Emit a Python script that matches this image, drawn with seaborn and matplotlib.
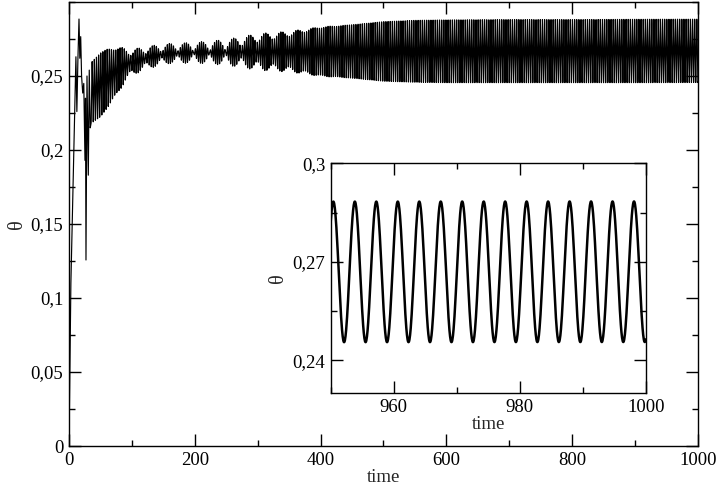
import matplotlib
matplotlib.use("Agg")
import matplotlib.pyplot as plt
import matplotlib.ticker as mticker
import numpy as np
import pandas as pd
import seaborn as sns

# early transient
TRANS_T = [0, 3, 11, 12.5, 14.2, 15.9, 17.2, 18.6, 20, 21.8, 23.5, 25.4,
           26.2, 27.0, 28.6, 30.7, 32.2, 33.8]
TRANS_THETA = [0, 0.11, 0.263, 0.226, 0.262, 0.2885, 0.262, 0.2766, 0.25,
               0.2385, 0.245, 0.193, 0.235, 0.1257, 0.25, 0.183, 0.254, 0.215]

# after the transient: oscillation read as envelope knots
ENV_T = [35, 50, 60, 73, 89, 100, 113, 130, 160, 200, 250, 300, 350, 400,
         450, 500, 550, 600, 700, 800, 900, 1000]
CENTER = [0.2385, 0.244, 0.248, 0.2524, 0.2574, 0.259, 0.261, 0.263, 0.2652,
          0.2658, 0.266, 0.2663, 0.2665, 0.2665, 0.2666, 0.2666, 0.2667,
          0.2667, 0.2668, 0.2668, 0.2669, 0.267]
AMP = [0.0205, 0.0215, 0.020, 0.016, 0.010, 0.0065, 0.0060, 0.0050, 0.0043,
       0.0040, 0.0052, 0.0095, 0.0120, 0.0163, 0.0180, 0.0201, 0.0209,
       0.0212, 0.0213, 0.0213, 0.0214, 0.0214]
BEAT_AMP = [0, 0, 0, 0.001, 0.0018, 0.0022, 0.0023, 0.0025, 0.0025, 0.003,
            0.0035, 0.0029, 0.0018, 0.0005, 0, 0, 0, 0, 0, 0, 0, 0]

PERIOD = 3.409      # from the inset: 14 cycles between 950.4 and 998.2
PEAK_T = 950.42
BEAT_PERIOD = 25.4  # spacing of the beat nodes, t = 100..350
BEAT_NODE_T = 198

t = np.arange(35.1, 1000.0001, 0.05)
phase = 2 * np.pi * (t - PEAK_T) / PERIOD
beat = 2 * np.pi * (t - BEAT_NODE_T) / BEAT_PERIOD + np.pi
theta = (np.interp(t, ENV_T, CENTER)
         + np.interp(t, ENV_T, AMP) * np.cos(phase)
         + np.interp(t, ENV_T, BEAT_AMP) * np.cos(phase + beat))

df = pd.DataFrame({
    "time": np.concatenate([TRANS_T, t]),
    "theta": np.concatenate([TRANS_THETA, theta]),
})
df_in = df[df["time"] >= 949.5]

sns.set_style("ticks")
plt.rcParams["font.family"] = ["Liberation Serif", "DejaVu Serif"]
plt.rcParams["axes.linewidth"] = 1.0

FS = 13.5
comma = mticker.FuncFormatter(lambda v, _: f"{v:g}".replace(".", ","))


def style_axis(ax, xmaj, xmin, ymaj, ymin):
    ax.xaxis.set_major_locator(mticker.MultipleLocator(xmaj))
    ax.xaxis.set_minor_locator(mticker.MultipleLocator(xmin))
    ax.yaxis.set_major_locator(mticker.MultipleLocator(ymaj))
    ax.yaxis.set_minor_locator(mticker.MultipleLocator(ymin))
    ax.yaxis.set_major_formatter(comma)
    ax.tick_params(which="both", direction="in", top=True, right=True,
                   labelsize=FS, color="black", labelcolor="black", width=1.0)
    ax.tick_params(which="major", length=8.6, pad=4)
    ax.tick_params(which="minor", length=4.3)
    for s in ax.spines.values():
        s.set_color("black")
        s.set_visible(True)


fig = plt.figure(figsize=(7.18, 4.91), dpi=100)
ax = fig.add_axes([0.0961, 0.0916, 0.876, 0.9043])
sns.lineplot(data=df, x="time", y="theta", ax=ax, color="black",
             linewidth=0.85, estimator=None, sort=False)
ax.set_xlim(0, 1000)
ax.set_ylim(0, 0.3)
style_axis(ax, 200, 100, 0.05, 0.025)
ax.set_yticks([0, 0.05, 0.1, 0.15, 0.2, 0.25])
ax.set_xlabel("time", fontsize=FS, labelpad=0)
ax.set_ylabel("θ", fontsize=FS + 1, labelpad=3)

axin = fig.add_axes([0.4606, 0.199, 0.4387, 0.4684])
axin.set_facecolor("white")
sns.lineplot(data=df_in, x="time", y="theta", ax=axin, color="black",
             linewidth=1.8, estimator=None, sort=False)
axin.set_xlim(950, 1000)
axin.set_ylim(0.23, 0.3)
style_axis(axin, 20, 10, 0.03, 0.015)
axin.set_yticks([0.24, 0.27, 0.3])
axin.set_xlabel("time", fontsize=FS, labelpad=0)
axin.set_ylabel("θ", fontsize=FS + 1, labelpad=3)

fig.savefig("out.png", dpi=100)
